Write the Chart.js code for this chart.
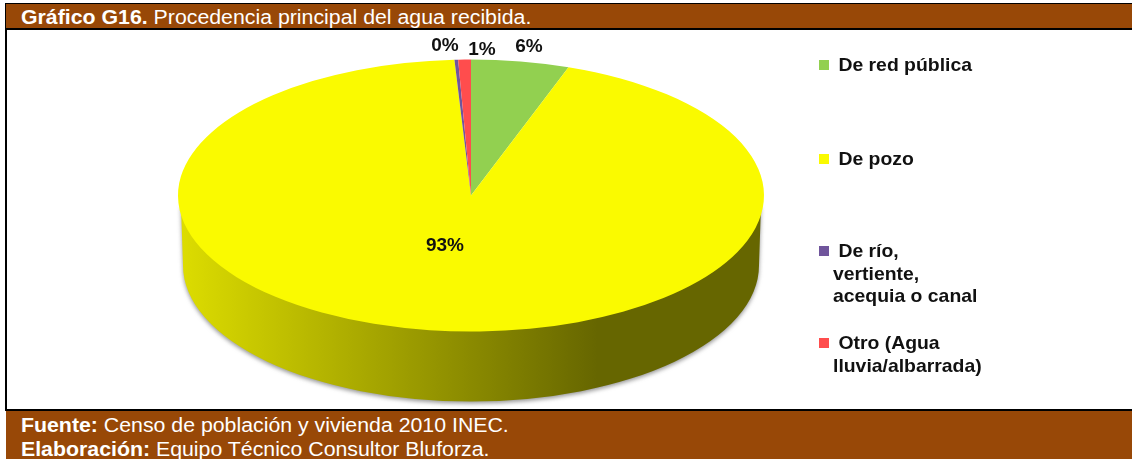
<!DOCTYPE html>
<html>
<head>
<meta charset="utf-8">
<script src="https://cdn.jsdelivr.net/npm/chart.js@4"></script>
<style>
    html, body { margin: 0; padding: 0; background: #fff; }
    body { position: relative; width: 1132px; height: 459px; overflow: hidden; font-family: "Liberation Sans", Arial, sans-serif; }
    #chart { position: absolute; left: 0; top: 0; }
    .band { position: absolute; left: 6px; right: 0; background: #984807; color: #fff; font-size: 20px; box-sizing: border-box; padding-left: 15px; }
    .band span { display: block; white-space: pre; transform-origin: left center; transform: scaleX(1.065); }
    #head { top: 3px; height: 27px; border-top: 1px solid #000; border-bottom: 2px solid #000; line-height: 26px; }
    #foot { top: 409px; height: 50px; border-top: 2px solid #000; line-height: 24px; padding-top: 2px; }
    #frame { position: absolute; left: 5px; top: 3px; width: 2px; height: 408px; background: #000; }
    #legend div { position: absolute; font-weight: bold; font-size: 18.5px; line-height: 22.5px; color: #111; white-space: pre; transform-origin: left top; transform: scaleX(1.048); }
    #legend i { position: absolute; width: 10px; height: 10px; }
</style>
</head>
<body>
<canvas id="chart" width="1132" height="459"></canvas>
<div id="frame"></div>
<div class="band" id="head"><span><b>Gráfico G16.</b> Procedencia principal del agua recibida.</span></div>
<div class="band" id="foot"><span><b>Fuente:</b> Censo de población y vivienda 2010 INEC.</span><span><b>Elaboración:</b> Equipo Técnico Consultor Bluforza.</span></div>
<div id="legend"></div>
<script>
const categories = ['De red pública', 'De pozo', 'De río,\nvertiente,\nacequia o canal', 'Otro (Agua\nlluvia/albarrada)'];
const shares = [5.4, 93.7, 0.2, 0.7];
const shareLabels = ['6%', '93%', '0%', '1%'];
const sliceColors = ['#92d050', '#fafa00', '#70559c', '#ff4d4d'];

// donde va cada etiqueta de porcentaje
const labelSpots = [[529, 47], [445, 246], [445, 46], [482, 50]];
const legendTops = [54, 148, 240, 332];

const squash = 136 / 293;   // el pie se dibuja como elipse
const depth = 70;

const pie3d = {
    id: 'pie3d',
    beforeDatasetsDraw(chart) {
        const arc = chart.getDatasetMeta(0).data[0];
        const ctx = chart.ctx;
        const rx = arc.outerRadius - 5, ry = arc.outerRadius * squash;
        const grad = ctx.createLinearGradient(arc.x - rx, 0, arc.x + rx, 0);
        grad.addColorStop(0, '#dcdc00');
        grad.addColorStop(0.72, '#666600');
        grad.addColorStop(1, '#666600');

        // pared lateral con su sombra
        ctx.save();
        ctx.shadowColor = 'rgba(80,80,80,0.6)';
        ctx.shadowBlur = 4;
        ctx.shadowOffsetY = 2;
        ctx.fillStyle = grad;
        ctx.beginPath();
        ctx.moveTo(arc.x - arc.outerRadius + 3, arc.y + 10);
        ctx.lineTo(arc.x - rx, arc.y + depth);
        ctx.ellipse(arc.x, arc.y + depth, rx, ry, 0, Math.PI, 0, true);
        ctx.lineTo(arc.x + arc.outerRadius - 3, arc.y + 10);
        ctx.closePath();
        ctx.fill();
        ctx.restore();

        // aplastar el pie
        ctx.save();
        ctx.translate(arc.x, arc.y);
        ctx.scale(1, squash);
        ctx.translate(-arc.x, -arc.y);
    },
    afterDatasetsDraw(chart) {
        const ctx = chart.ctx;
        ctx.restore();
        ctx.save();
        ctx.font = 'bold 19px "Liberation Sans"';
        ctx.fillStyle = '#111';
        ctx.textAlign = 'center';
        ctx.textBaseline = 'middle';
        shareLabels.forEach(function(txt, i) {
            ctx.fillText(txt, labelSpots[i][0], labelSpots[i][1]);
        });
        ctx.restore();
    }
};

new Chart(document.getElementById('chart'), {
    type: 'pie',
    data: {
        labels: categories,
        datasets: [{
            data: shares,
            backgroundColor: sliceColors,
            borderWidth: 0
        }]
    },
    options: {
        responsive: false,
        animation: false,
        radius: 293,
        layout: { padding: { left: 0, right: 190, top: 0, bottom: 68 } },
        plugins: { legend: { display: false }, tooltip: { enabled: false } }
    },
    plugins: [pie3d]
});

// leyenda a la derecha
const legendBox = document.getElementById('legend');
categories.forEach(function(name, i) {
    const row = document.createElement('div');
    row.style.left = '833px';
    row.style.top = legendTops[i] + 'px';
    row.textContent = ' ' + name;
    const mark = document.createElement('i');
    mark.style.left = '819px';
    mark.style.top = (legendTops[i] + 6) + 'px';
    mark.style.background = sliceColors[i];
    legendBox.appendChild(row);
    legendBox.appendChild(mark);
});
</script>
</body>
</html>
